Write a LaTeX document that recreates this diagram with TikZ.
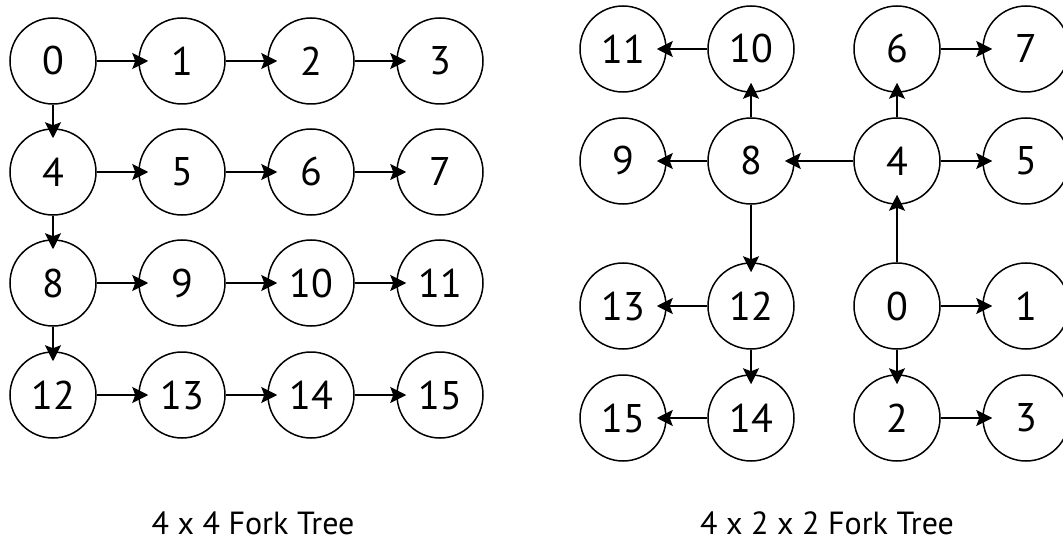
\documentclass[tikz,border=0pt]{standalone}
\usepackage{fontspec}
\setmainfont{PT Sans}
\usetikzlibrary{arrows.meta}

\tikzset{
  proc/.style={circle, draw, line width=1.5pt, minimum size=86pt, inner sep=0pt,
    font=\fontsize{40}{42}\selectfont},
  fork/.style={line width=1.5pt, -{Stealth[length=16pt, width=16pt, inset=3pt]}, shorten >=-10pt},
  caption/.style={anchor=base, inner sep=0pt, font=\fontsize{32}{34}\selectfont}
}

\begin{document}
\begin{tikzpicture}[x=1pt, y=-1pt]
\useasboundingbox (0,0) rectangle (1063,548);

% 4 x 4 fork tree
\node[proc] (l0)  at (53,61)  {0};
\node[proc] (l1)  at (182,61) {1};
\node[proc] (l2)  at (311,61) {2};
\node[proc] (l3)  at (440,61) {3};
\node[proc] (l4)  at (53,172)  {4};
\node[proc] (l5)  at (182,172) {5};
\node[proc] (l6)  at (311,172) {6};
\node[proc] (l7)  at (440,172) {7};
\node[proc] (l8)  at (53,283)  {8};
\node[proc] (l9)  at (182,283) {9};
\node[proc] (l10) at (311,283) {10};
\node[proc] (l11) at (440,283) {11};
\node[proc] (l12) at (53,395)  {12};
\node[proc] (l13) at (182,395) {13};
\node[proc] (l14) at (311,395) {14};
\node[proc] (l15) at (440,395) {15};

\draw[fork] (l0) -- (l1);
\draw[fork] (l1) -- (l2);
\draw[fork] (l2) -- (l3);
\draw[fork] (l4) -- (l5);
\draw[fork] (l5) -- (l6);
\draw[fork] (l6) -- (l7);
\draw[fork] (l8) -- (l9);
\draw[fork] (l9) -- (l10);
\draw[fork] (l10) -- (l11);
\draw[fork] (l12) -- (l13);
\draw[fork] (l13) -- (l14);
\draw[fork] (l14) -- (l15);
\draw[fork] (l0) -- (l4);
\draw[fork] (l4) -- (l8);
\draw[fork] (l8) -- (l12);

\node[caption] (lcap) at (253,534) {4 x 4 Fork Tree};

% 4 x 2 x 2 fork tree
\node[proc] (r11) at (623,49)  {11};
\node[proc] (r10) at (751,49)  {10};
\node[proc] (r6)  at (897,49)  {6};
\node[proc] (r7)  at (1026,49) {7};
\node[proc] (r9)  at (623,161) {9};
\node[proc] (r8)  at (751,161) {8};
\node[proc] (r4)  at (897,161) {4};
\node[proc] (r5)  at (1026,161) {5};
\node[proc] (r13) at (623,306) {13};
\node[proc] (r12) at (751,306) {12};
\node[proc] (r0)  at (897,306) {0};
\node[proc] (r1)  at (1026,306) {1};
\node[proc] (r15) at (623,418) {15};
\node[proc] (r14) at (751,418) {14};
\node[proc] (r2)  at (897,418) {2};
\node[proc] (r3)  at (1026,418) {3};

\draw[fork] (r0) -- (r1);
\draw[fork] (r0) -- (r2);
\draw[fork] (r2) -- (r3);
\draw[fork] (r0) -- (r4);
\draw[fork] (r4) -- (r5);
\draw[fork] (r4) -- (r6);
\draw[fork] (r6) -- (r7);
\draw[fork] (r4) -- (r8);
\draw[fork] (r8) -- (r9);
\draw[fork] (r8) -- (r10);
\draw[fork] (r10) -- (r11);
\draw[fork] (r8) -- (r12);
\draw[fork] (r12) -- (r13);
\draw[fork] (r12) -- (r14);
\draw[fork] (r14) -- (r15);

\node[caption] (rcap) at (827,534) {4 x 2 x 2 Fork Tree};

\end{tikzpicture}
\end{document}
